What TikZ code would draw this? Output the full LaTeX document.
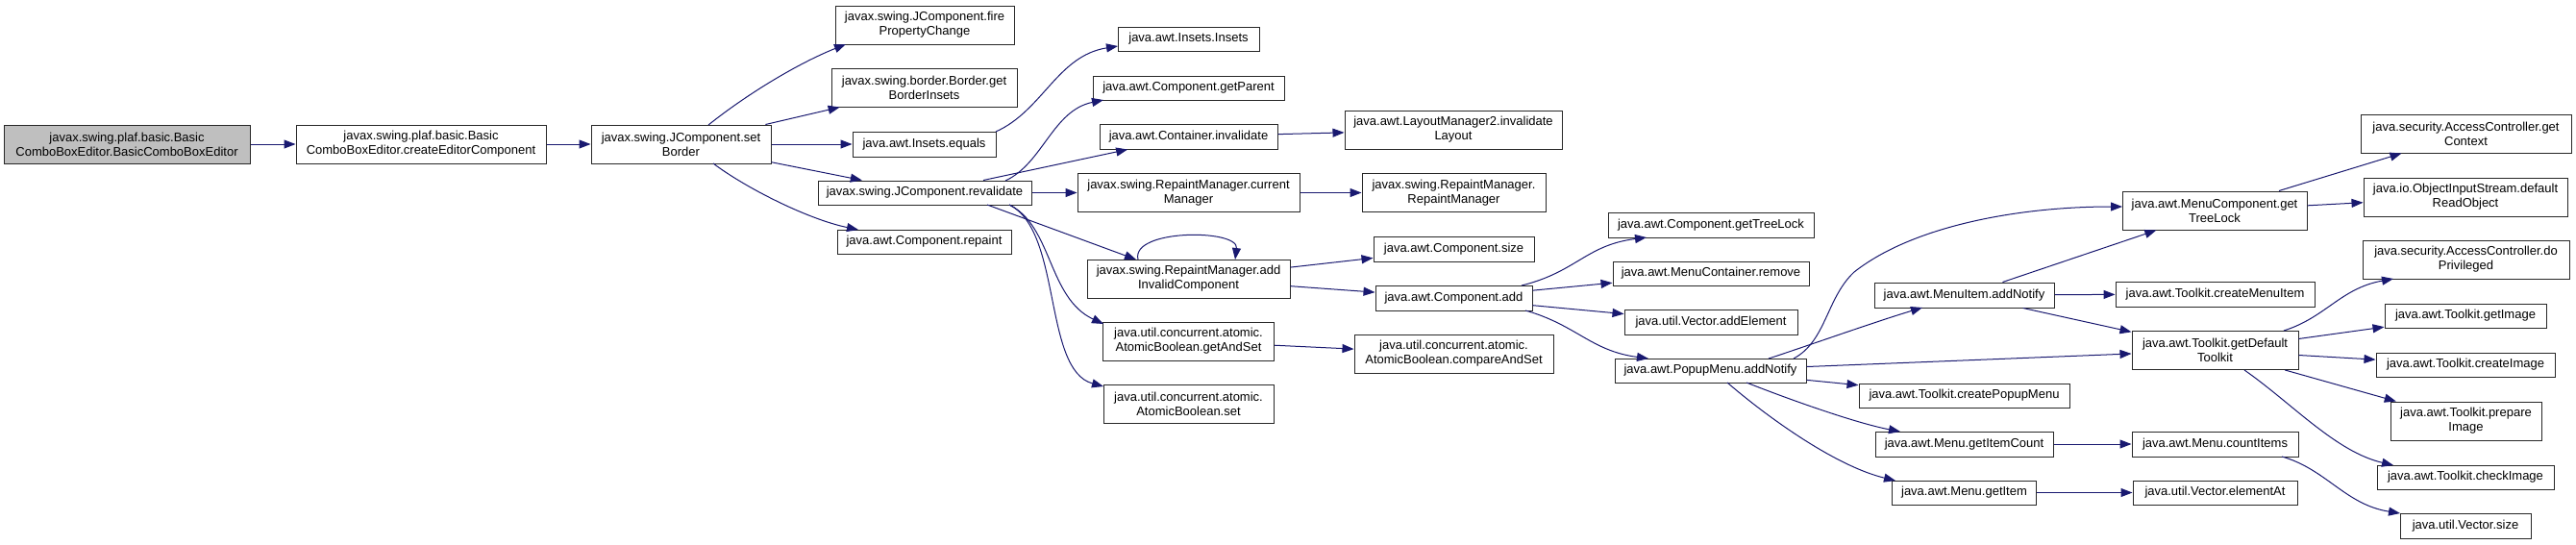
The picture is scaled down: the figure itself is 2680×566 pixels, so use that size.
\documentclass[tikz,border=0pt]{standalone}
\usepackage{fontspec}
\setmainfont{Liberation Sans}
\usetikzlibrary{arrows.meta}
\definecolor{edgec}{RGB}{25,25,112}
\definecolor{rootc}{RGB}{191,191,191}
\definecolor{boxline}{RGB}{40,40,40}
\begin{document}
\begin{tikzpicture}[x=1pt,y=-1pt,
  box/.style={draw=boxline, line width=1pt, fill=white, inner sep=0pt, align=center, font=\fontsize{13}{15}\selectfont},
  rootbox/.style={box, fill=rootc},
  e/.style={draw=edgec, line width=1pt, -{Triangle[length=12pt,width=9pt]}}]
\fill[white] (0,0) rectangle (2680,566);
\useasboundingbox (0,0) rectangle (2680,566);
% column 0-2
\node[rootbox, minimum width=256pt, minimum height=40pt] (n0) at (132,150) {javax.swing.plaf.basic.Basic\\ComboBoxEditor.BasicComboBoxEditor};
\node[box, minimum width=260pt, minimum height=40pt] (n1) at (438,150) {javax.swing.plaf.basic.Basic\\ComboBoxEditor.createEditorComponent};
\node[box, minimum width=187pt, minimum height=40pt] (sb) at (708.5,150) {javax.swing.JComponent.set\\Border};
% column 3
\node[box, minimum width=186pt, minimum height=40pt] (fire) at (962,26) {javax.swing.JComponent.fire\\PropertyChange};
\node[box, minimum width=193pt, minimum height=40pt] (gbi) at (961.5,91) {javax.swing.border.Border.get\\BorderInsets};
\node[box, minimum width=149pt, minimum height=26pt] (ieq) at (961.5,150) {java.awt.Insets.equals};
\node[box, minimum width=222pt, minimum height=25pt] (reval) at (962,200.5) {javax.swing.JComponent.revalidate};
\node[box, minimum width=181pt, minimum height=25pt] (rep) at (961.5,251.5) {java.awt.Component.repaint};
% column 4
\node[box, minimum width=147pt, minimum height=25pt] (ins) at (1236.5,40.5) {java.awt.Insets.Insets};
\node[box, minimum width=199pt, minimum height=25pt] (gp) at (1236.5,91.5) {java.awt.Component.getParent};
\node[box, minimum width=185pt, minimum height=26pt] (cinv) at (1236.5,142) {java.awt.Container.invalidate};
\node[box, minimum width=231pt, minimum height=40pt] (cm) at (1236.5,200.5) {javax.swing.RepaintManager.current\\Manager};
\node[box, minimum width=211pt, minimum height=40pt] (aic) at (1236.5,290) {javax.swing.RepaintManager.add\\InvalidComponent};
\node[box, minimum width=178pt, minimum height=40pt] (gas) at (1236.5,355) {java.util.concurrent.atomic.\\AtomicBoolean.getAndSet};
\node[box, minimum width=177pt, minimum height=40pt] (abset) at (1236.5,420.5) {java.util.concurrent.atomic.\\AtomicBoolean.set};
% column 5
\node[box, minimum width=226pt, minimum height=40pt] (lm2) at (1512,135) {java.awt.LayoutManager2.invalidate\\Layout};
\node[box, minimum width=191pt, minimum height=40pt] (rmrm) at (1512.5,200.5) {javax.swing.RepaintManager.\\RepaintManager};
\node[box, minimum width=167pt, minimum height=26pt] (csize) at (1512.5,259) {java.awt.Component.size};
\node[box, minimum width=163pt, minimum height=26pt] (cadd) at (1512.5,310) {java.awt.Component.add};
\node[box, minimum width=207pt, minimum height=40pt] (cas) at (1512.5,368) {java.util.concurrent.atomic.\\AtomicBoolean.compareAndSet};
% column 6
\node[box, minimum width=214pt, minimum height=26pt] (gtl) at (1780,234) {java.awt.Component.getTreeLock};
\node[box, minimum width=204pt, minimum height=25pt] (mcr) at (1780,284.5) {java.awt.MenuContainer.remove};
\node[box, minimum width=180pt, minimum height=26pt] (vae) at (1780,335) {java.util.Vector.addElement};
\node[box, minimum width=199pt, minimum height=25pt] (pman) at (1779.5,385.5) {java.awt.PopupMenu.addNotify};
% column 7
\node[box, minimum width=187pt, minimum height=26pt] (mian) at (2043.5,307) {java.awt.MenuItem.addNotify};
\node[box, minimum width=219pt, minimum height=25pt] (cpm) at (2043.5,411.5) {java.awt.Toolkit.createPopupMenu};
\node[box, minimum width=185pt, minimum height=26pt] (mgic) at (2043.5,462) {java.awt.Menu.getItemCount};
\node[box, minimum width=150pt, minimum height=25pt] (mgi) at (2043.5,512.5) {java.awt.Menu.getItem};
% column 8
\node[box, minimum width=192pt, minimum height=40pt] (mctl) at (2304,219) {java.awt.MenuComponent.get\\TreeLock};
\node[box, minimum width=207pt, minimum height=26pt] (tcmi) at (2304.5,306) {java.awt.Toolkit.createMenuItem};
\node[box, minimum width=173pt, minimum height=40pt] (tgdt) at (2304.5,364.5) {java.awt.Toolkit.getDefault\\Toolkit};
\node[box, minimum width=173pt, minimum height=26pt] (mci) at (2304.5,462) {java.awt.Menu.countItems};
\node[box, minimum width=171pt, minimum height=25pt] (vea) at (2304.5,512.5) {java.util.Vector.elementAt};
% column 9
\node[box, minimum width=219pt, minimum height=40pt] (acgc) at (2565.5,139) {java.security.AccessController.get\\Context};
\node[box, minimum width=212pt, minimum height=40pt] (ois) at (2565,205) {java.io.ObjectInputStream.default\\ReadObject};
\node[box, minimum width=215pt, minimum height=40pt] (acdp) at (2565.5,270) {java.security.AccessController.do\\Privileged};
\node[box, minimum width=168pt, minimum height=25pt] (tgi) at (2565,328.5) {java.awt.Toolkit.getImage};
\node[box, minimum width=186pt, minimum height=25pt] (tci) at (2565,379.5) {java.awt.Toolkit.createImage};
\node[box, minimum width=157pt, minimum height=40pt] (tpi) at (2565.5,438) {java.awt.Toolkit.prepare\\Image};
\node[box, minimum width=184pt, minimum height=25pt] (tchk) at (2565,496.5) {java.awt.Toolkit.checkImage};
\node[box, minimum width=136pt, minimum height=26pt] (vsz) at (2565,547) {java.util.Vector.size};
% edges
\draw[e] (n0) -- (n1);
\draw[e] (n1) -- (sb);
\draw[e] ([shift={(28.5,-20)}]sb.center) .. controls (777,98) and (830,66) .. ([shift={(-82,20)}]fire.center);
\draw[e] (sb) -- (gbi);
\draw[e] (sb) -- (ieq);
\draw[e] (sb) -- (reval);
\draw[e] ([shift={(33.5,20)}]sb.center) .. controls (775,195) and (840,228) .. ([shift={(-68.5,-12.5)}]rep.center);
\draw[e] ([shift={(74.5,-13)}]ieq.center) .. controls (1085,115) and (1100,58) .. ([shift={(-73.5,7.5)}]ins.center);
\draw[e] ([shift={(84,-12.5)}]reval.center) .. controls (1085,170) and (1095,115) .. ([shift={(-88.5,12.5)}]gp.center);
\draw[e] (reval) -- (cinv);
\draw[e] (reval) -- (cm);
\draw[e] ([shift={(65,12.5)}]reval.center) -- ([shift={(-54.5,-20)}]aic.center);
\draw[e] ([shift={(88,12.5)}]reval.center) .. controls (1095,235) and (1090,310) .. ([shift={(-88.5,-18)}]gas.center);
\draw[e] ([shift={(88,12.5)}]reval.center) .. controls (1105,240) and (1085,385) .. ([shift={(-88.5,-18.5)}]abset.center);
\draw[e] ([shift={(-52.5,-20)}]aic.center) .. controls (1176,238) and (1289,238) .. ([shift={(48.5,-20)}]aic.center);
\draw[e] (aic) -- (csize);
\draw[e] (aic) -- (cadd);
\draw[e] (cm) -- (rmrm);
\draw[e] (cinv) -- (lm2);
\draw[e] (gas) -- (cas);
\draw[e] ([shift={(70.5,-13)}]cadd.center) .. controls (1640,283) and (1650,255) .. ([shift={(-67,13)}]gtl.center);
\draw[e] (cadd) -- (mcr);
\draw[e] (cadd) -- (vae);
\draw[e] ([shift={(74.5,13)}]cadd.center) .. controls (1640,338) and (1655,365) .. ([shift={(-64.5,-12.5)}]pman.center);
\draw[e] ([shift={(86.5,-12.5)}]pman.center) .. controls (1900,355) and (1900,310) .. (1929,283) .. controls (1990,235) and (2100,215) .. ([shift={(-96,-4)}]mctl.center);
\draw[e] ([shift={(60.5,-12.5)}]pman.center) .. controls (1880,360) and (1950,335) .. ([shift={(-43.5,13)}]mian.center);
\draw[e] (pman) -- (tgdt);
\draw[e] (pman) -- (cpm);
\draw[e] ([shift={(37.5,12.5)}]pman.center) .. controls (1860,415) and (1930,440) .. ([shift={(-66.5,-13)}]mgic.center);
\draw[e] ([shift={(17.5,12.5)}]pman.center) .. controls (1840,435) and (1910,485) .. ([shift={(-71.5,-12.5)}]mgi.center);
\draw[e] (mian) -- (mctl);
\draw[e] (mian) -- (tcmi);
\draw[e] (mian) -- (tgdt);
\draw[e] (mgic) -- (mci);
\draw[e] (mgi) -- (vea);
\draw[e] ([shift={(69.5,13)}]mci.center) .. controls (2420,488) and (2440,525) .. ([shift={(-68,-13)}]vsz.center);
\draw[e] (mctl) -- (acgc);
\draw[e] (mctl) -- (ois);
\draw[e] ([shift={(71.5,-20.5)}]tgdt.center) .. controls (2420,330) and (2435,300) .. ([shift={(-75.5,20)}]acdp.center);
\draw[e] (tgdt) -- (tgi);
\draw[e] (tgdt) -- (tci);
\draw[e] (tgdt) -- (tpi);
\draw[e] ([shift={(30.5,20.5)}]tgdt.center) .. controls (2385,420) and (2430,470) .. ([shift={(-75,-12.5)}]tchk.center);
\end{tikzpicture}
\end{document}
